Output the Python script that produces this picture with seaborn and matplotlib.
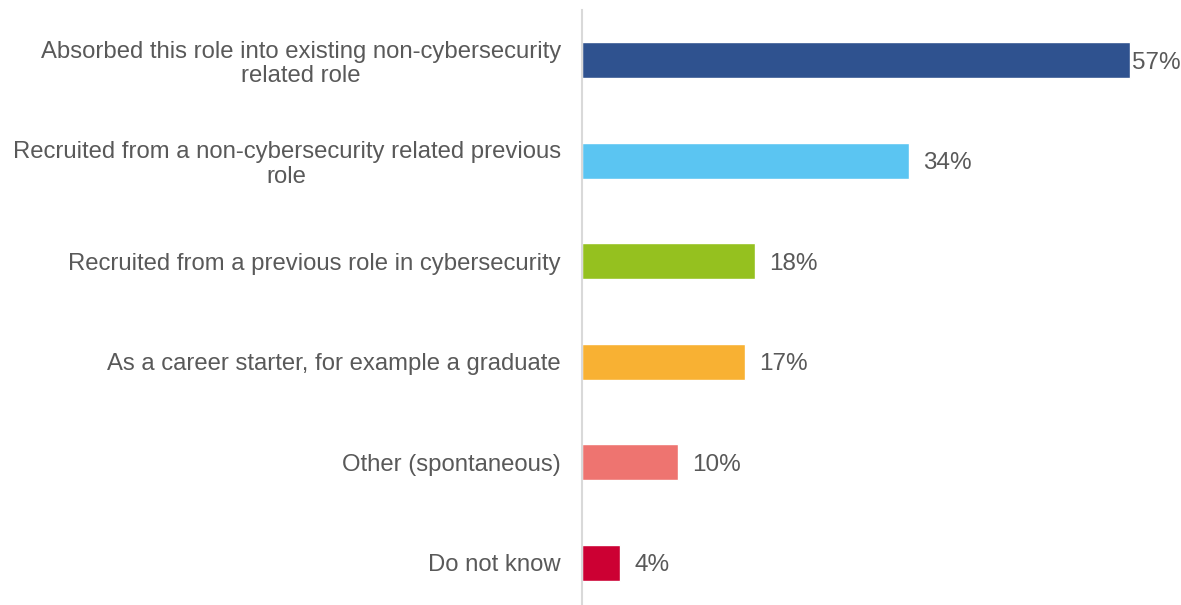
import matplotlib
matplotlib.use("Agg")
import matplotlib.pyplot as plt
import seaborn as sns
import pandas as pd

categories = [
    "Absorbed this role into existing non-cybersecurity\nrelated role",
    "Recruited from a non-cybersecurity related previous\nrole",
    "Recruited from a previous role in cybersecurity",
    "As a career starter, for example a graduate",
    "Other (spontaneous)",
    "Do not know",
]
values = [57, 34, 18, 17, 10, 4]
colors = ["#2F528F", "#5BC5F2", "#95C11F", "#F8B133", "#EE7470", "#CC0033"]

sns.set_theme(style="white")
plt.rcParams["font.family"] = ["Liberation Sans", "DejaVu Sans"]

df = pd.DataFrame({"category": categories, "value": values})

fig = plt.figure(figsize=(11.81, 6.05), dpi=100)
ax = fig.add_axes([0.4925, 0.0, 0.505, 0.9835])

sns.barplot(data=df, x="value", y="category", hue="category",
            palette=colors, legend=False, width=0.36, ax=ax,
            orient="h", saturation=1)

ax.set_xlim(0, 62)
ax.set_ylim(5.42, -0.5)
ax.set_xlabel("")
ax.set_ylabel("")
ax.set_xticks([])
ax.tick_params(axis="y", length=0, pad=15, labelsize=17.2, labelcolor="#595959")
for lbl in ax.get_yticklabels():
    lbl.set_horizontalalignment("right")
    lbl.set_multialignment("center")
    lbl.set_linespacing(1.15)

for side in ["top", "right", "bottom"]:
    ax.spines[side].set_visible(False)
ax.spines["left"].set_color("#D9D9D9")
ax.spines["left"].set_linewidth(1.5)

pads = [1.5, 10, 10, 10, 10, 10]
for i, (v, p) in enumerate(zip(values, pads)):
    ax.annotate(f"{v}%", xy=(v, i), xytext=(p, 0), textcoords="offset points",
                ha="left", va="center_baseline", fontsize=17.5, color="#595959")

fig.savefig("out.png", dpi=100)
